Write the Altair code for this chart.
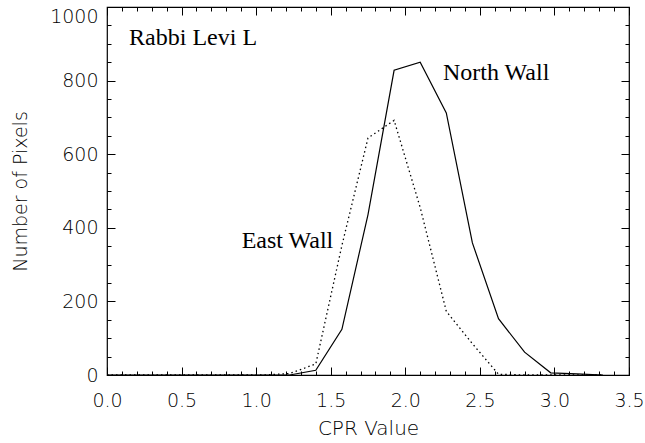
import altair as alt
import pandas as pd

# CPR bin centres
cpr = [0.0, 0.175, 0.35, 0.525, 0.7, 0.875, 1.05, 1.225, 1.4, 1.575, 1.75,
       1.925, 2.1, 2.275, 2.45, 2.625, 2.8, 2.975, 3.15, 3.325]
north_wall = [0, 0, 0, 0, 0, 0, 0, 0, 13, 124, 436, 828, 850, 712, 359,
              153, 62, 6, 3, 0]
east_wall = [0, 0, 0, 0, 0, 0, 0, 4, 30, 352, 644, 692, 455, 173, 85,
             2, 0, 0, 0, 0]

label_text = ["Rabbi Levi L", "North Wall", "East Wall"]
label_x = [0.148, 2.253, 0.903]
label_y = [898, 801, 346]

x_major = [0.0, 0.5, 1.0, 1.5, 2.0, 2.5, 3.0, 3.5]
x_minor = [round(i * 0.1, 1) for i in range(36)]
y_major = [0, 200, 400, 600, 800, 1000]
y_labels_low = [0, 200, 400, 600, 800]
y_label_top = [1000]
y_minor = [i * 50 for i in range(21)]

W, H = 522, 368

df = pd.DataFrame({
    "x": cpr * 2,
    "y": north_wall + east_wall,
    "s": ["North"] * len(cpr) + ["East"] * len(cpr),
})
lab = pd.DataFrame({"t": label_text, "x": label_x, "y": label_y})

xs = alt.Scale(domain=[0, 3.5], nice=False, zero=False)
ys = alt.Scale(domain=[0, 1000], nice=False, zero=False)

LF = "DejaVu Sans"
LC = "black"
FW = 300


def tick_axis(orient, offset, values, size):
    return alt.Axis(orient=orient, offset=offset, values=values, tickSize=size,
                    ticks=True, labels=False, domain=False, grid=False,
                    tickColor="black", tickWidth=1, title=None)


base = alt.Chart(df)

north = base.transform_filter(alt.datum.s == "North").mark_line(
    color="black", strokeWidth=1.2
).encode(
    x=alt.X("x:Q", scale=xs, axis=alt.Axis(
        orient="bottom", values=x_major, format=".1f", ticks=False, tickSize=0,
        domain=False, grid=False, labelFlush=False, labelFont=LF,
        labelFontSize=19, labelFontWeight=FW, labelColor=LC, labelPadding=16,
        title="CPR Value", titleFont=LF, titleFontSize=20,
        titleFontWeight=FW, titleColor=LC, titleY=53,
        titleBaseline="middle")),
    y=alt.Y("y:Q", scale=ys, axis=alt.Axis(
        orient="left", values=y_labels_low, format="d", ticks=False,
        tickSize=0, domain=False, grid=False, labelFlush=False, labelFont=LF,
        labelFontSize=19, labelFontWeight=FW, labelColor=LC, labelPadding=9,
        title="Number of Pixels", titleFont=LF, titleFontSize=19,
        titleFontWeight=FW, titleColor=LC, titleAngle=-90, titleX=-87,
        titleY=H / 2, titleAlign="center", titleBaseline="middle")),
)

east = base.transform_filter(alt.datum.s == "East").mark_line(
    color="black", strokeWidth=1.3, strokeDash=[1.5, 3]
).encode(
    x=alt.X("x:Q", scale=xs, axis=tick_axis("top", -H, x_major, 8)),
    y=alt.Y("y:Q", scale=ys, axis=tick_axis("right", -W, y_major, 8)),
)

inv = base.transform_filter(alt.datum.s == "North").mark_line(strokeOpacity=0)
l3 = inv.encode(
    x=alt.X("x:Q", scale=xs, axis=tick_axis("top", -H, x_minor, 4)),
    y=alt.Y("y:Q", scale=ys, axis=tick_axis("right", -W, y_minor, 4)),
)
l4 = inv.encode(
    x=alt.X("x:Q", scale=xs, axis=tick_axis("bottom", -H, x_major, 8)),
    y=alt.Y("y:Q", scale=ys, axis=tick_axis("left", -W, y_major, 8)),
)
l5 = inv.encode(
    x=alt.X("x:Q", scale=xs, axis=tick_axis("bottom", -H, x_minor, 4)),
    y=alt.Y("y:Q", scale=ys, axis=tick_axis("left", -W, y_minor, 4)),
)
l6 = inv.encode(
    x=alt.X("x:Q", scale=xs, axis=None),
    y=alt.Y("y:Q", scale=ys, axis=alt.Axis(
        orient="left", values=y_label_top, format="d", ticks=False,
        tickSize=0, domain=False, grid=False, labelFlush=False,
        labelBaseline="top", labelFont=LF, labelFontSize=19,
        labelFontWeight=FW, labelColor=LC, labelPadding=9, title=None)),
)

texts = alt.Chart(lab).mark_text(
    font="Liberation Serif", fontSize=24, align="left", baseline="alphabetic",
    color="black"
).encode(
    x=alt.X("x:Q", scale=xs, axis=None),
    y=alt.Y("y:Q", scale=ys, axis=None),
    text="t:N",
)

chart = alt.layer(north, east, l3, l4, l5, l6, texts).resolve_axis(
    x="independent", y="independent"
).properties(
    width=W, height=H,
    autosize=alt.AutoSizeParams(type="none"),
    padding={"left": 107, "top": 7, "right": 16, "bottom": 68},
    background="white",
).configure_view(stroke="black", strokeWidth=1.2)

chart.save("out.html", embed_options={"renderer": "svg", "actions": False})
